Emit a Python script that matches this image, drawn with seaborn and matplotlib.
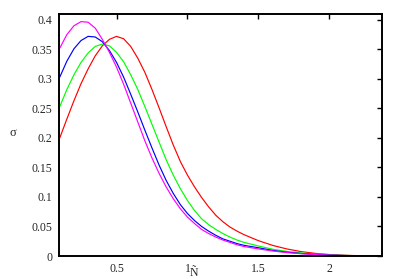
import pandas as pd
import seaborn as sns
import matplotlib
matplotlib.use("Agg")
import matplotlib.pyplot as plt

# values
x = [0.10, 0.15, 0.20, 0.25, 0.30, 0.35, 0.40, 0.45, 0.50, 0.55,
     0.60, 0.65, 0.70, 0.75, 0.80, 0.85, 0.90, 0.95, 1.00, 1.05,
     1.10, 1.15, 1.20, 1.25, 1.30, 1.35, 1.40, 1.45, 1.50, 1.60,
     1.70, 1.80, 1.90, 2.00, 2.10, 2.20, 2.30, 2.35]

red = [0.200, 0.232, 0.263, 0.292, 0.317, 0.339, 0.356, 0.367, 0.372, 0.368,
       0.355, 0.335, 0.311, 0.282, 0.251, 0.219, 0.188, 0.160, 0.137, 0.117,
       0.099, 0.083, 0.069, 0.058, 0.049, 0.042, 0.036, 0.031, 0.026, 0.018,
       0.012, 0.0075, 0.0045, 0.0025, 0.0013, 0.0006, 0.0002, 0.0001]

green = [0.253, 0.282, 0.307, 0.328, 0.344, 0.355, 0.359, 0.356, 0.345, 0.329,
         0.307, 0.282, 0.253, 0.223, 0.193, 0.163, 0.137, 0.114, 0.094, 0.077,
         0.063, 0.053, 0.045, 0.038, 0.032, 0.027, 0.023, 0.020, 0.017, 0.0115,
         0.0078, 0.0052, 0.0033, 0.0020, 0.0011, 0.0005, 0.0002, 0.0001]

blue = [0.303, 0.330, 0.351, 0.365, 0.372, 0.371, 0.363, 0.348, 0.328, 0.303,
        0.274, 0.244, 0.213, 0.183, 0.154, 0.128, 0.106, 0.087, 0.072, 0.060,
        0.050, 0.042, 0.035, 0.029, 0.025, 0.021, 0.018, 0.016, 0.014, 0.0095,
        0.0065, 0.0043, 0.0027, 0.0016, 0.0009, 0.0004, 0.0002, 0.0001]

magenta = [0.352, 0.375, 0.390, 0.397, 0.396, 0.386, 0.367, 0.345, 0.320, 0.291,
           0.259, 0.227, 0.195, 0.166, 0.140, 0.117, 0.097, 0.080, 0.066, 0.055,
           0.045, 0.038, 0.032, 0.027, 0.023, 0.019, 0.016, 0.014, 0.012, 0.0085,
           0.0058, 0.0039, 0.0025, 0.0015, 0.0008, 0.0004, 0.0002, 0.0001]

series = ["red", "green", "blue", "magenta"]
colors = ["#ff0000", "#00ff00", "#0000ff", "#ff00ff"]

xticks = [0.5, 1, 1.5, 2]
xticklabels = ["0.5", "1", "1.5", "2"]
yticks = [0, 0.05, 0.1, 0.15, 0.2, 0.25, 0.3, 0.35, 0.4]
yticklabels = ["0", "0.05", "0.1", "0.15", "0.2", "0.25", "0.3", "0.35", "0.4"]

df = pd.DataFrame({
    "x": x * 4,
    "sigma": red + green + blue + magenta,
    "curve": sum([[s] * len(x) for s in series], []),
})

sns.set_style("white")
plt.rcParams["font.family"] = ["Liberation Serif", "DejaVu Serif"]

fig, ax = plt.subplots(figsize=(3.99, 2.79), dpi=100)
fig.subplots_adjust(left=0.148, right=0.957, top=0.950, bottom=0.0824)

sns.lineplot(data=df, x="x", y="sigma", hue="curve", hue_order=series,
             palette=colors, linewidth=0.85, legend=False, ax=ax)

ax.set_xlim(0.095, 2.37)
ax.set_ylim(0, 0.41)
ax.set_xticks(xticks)
ax.set_xticklabels(xticklabels)
ax.set_yticks(yticks)
ax.set_yticklabels(yticklabels)
ax.tick_params(direction="in", length=3.5, width=1, color="black",
               top=True, right=True, labelsize=8.5, pad=5)

for sp in ax.spines.values():
    sp.set_visible(True)
    sp.set_color("black")
    sp.set_linewidth(1.4)

ax.set_xlabel("Ñ", fontsize=8.5)
ax.xaxis.set_label_coords(0.418, -0.070)
ax.xaxis.label.set_va("center")
ax.set_ylabel("σ", fontsize=9, rotation=0)
ax.yaxis.set_label_coords(-0.143, 0.508)
ax.yaxis.label.set_va("center")
ax.yaxis.label.set_ha("center")

fig.savefig("out.png", dpi=100)
